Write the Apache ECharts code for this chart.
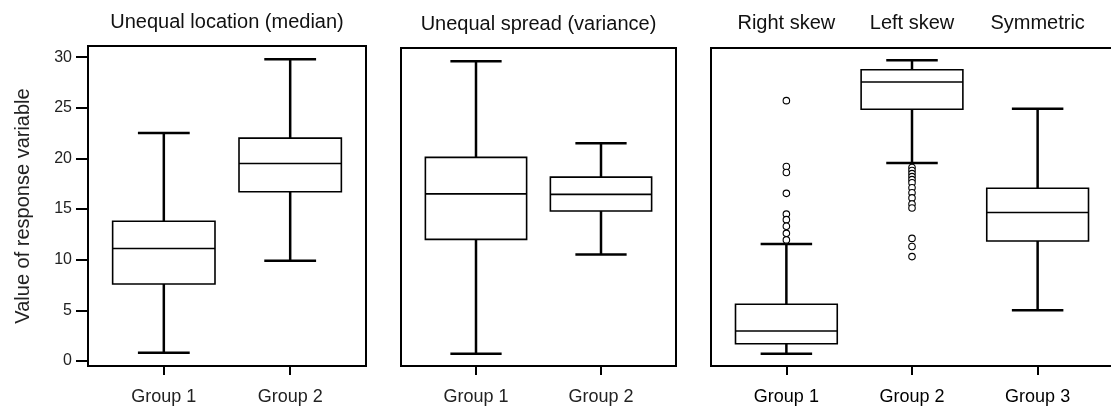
<!DOCTYPE html>
<html>
<head>
<meta charset="utf-8">
<script src="https://cdn.jsdelivr.net/npm/echarts@6/dist/echarts.min.js"></script>
<style>
  html, body { margin: 0; padding: 0; background: #fff; }
  #chart { width: 1111px; height: 414px; }
</style>
</head>
<body>
<div id="chart"></div>
<script>
// 数据：每个箱线 [最小值, Q1, 中位数, Q3, 最大值]
const locationGroups = ['Group 1', 'Group 2']
const locationBoxes = [
  [0.8, 7.6, 11.1, 13.8, 22.5],
  [9.9, 16.7, 19.5, 22.0, 29.8]
]
const spreadGroups = ['Group 1', 'Group 2']
const spreadBoxes = [
  [0.7, 12.0, 16.5, 20.1, 29.6],
  [10.5, 14.8, 16.45, 18.15, 21.5]
]
const skewGroups = ['Group 1', 'Group 2', 'Group 3']
const skewTitles = ['Right skew', 'Left skew', 'Symmetric']
const skewBoxes = [
  [0.7, 1.7, 2.95, 5.6, 11.55],
  [19.55, 24.85, 27.55, 28.75, 29.7],
  [5.0, 11.85, 14.65, 17.05, 24.9]
]
const rightSkewOutliers = [25.7, 19.2, 18.6, 16.55, 14.5, 13.95, 13.3, 12.6, 11.95]
const leftSkewOutliers = [19.1, 18.8, 18.5, 18.2, 17.9, 17.6, 17.1, 16.6, 16.1, 15.5, 15.1, 12.1, 11.3, 10.3]
const yTicks = [0, 5, 10, 15, 20, 25, 30]
const panelTitles = ['Unequal location (median)', 'Unequal spread (variance)']
const yAxisTitle = 'Value of response variable'

const FONT = "'Liberation Sans', Arial, Helvetica, sans-serif"
const BOX_WIDTH = 0.81
const CAP_WIDTH = 0.41

/**
 * 画一个箱线（箱体、中位线、须线和端线）
 */
const renderBox = (params, api) => {
  const x = api.value(0)
  const pMin = api.coord([x, api.value(1)])
  const pQ1 = api.coord([x, api.value(2)])
  const pMed = api.coord([x, api.value(3)])
  const pQ3 = api.coord([x, api.value(4)])
  const pMax = api.coord([x, api.value(5)])
  const boxW = api.size([BOX_WIDTH, 0])[0]
  const capW = api.size([CAP_WIDTH, 0])[0]
  const cx = pMed[0]
  const whisker = {stroke: '#000', lineWidth: 2.5}
  return {
    type: 'group',
    children: [
      {type: 'line', shape: {x1: cx, y1: pQ3[1], x2: cx, y2: pMax[1]}, style: whisker},
      {type: 'line', shape: {x1: cx, y1: pQ1[1], x2: cx, y2: pMin[1]}, style: whisker},
      {type: 'line', shape: {x1: cx - capW / 2, y1: pMax[1], x2: cx + capW / 2, y2: pMax[1]}, style: whisker},
      {type: 'line', shape: {x1: cx - capW / 2, y1: pMin[1], x2: cx + capW / 2, y2: pMin[1]}, style: whisker},
      {
        type: 'rect',
        shape: {x: cx - boxW / 2, y: pQ3[1], width: boxW, height: pQ1[1] - pQ3[1]},
        style: {fill: '#fff', stroke: '#000', lineWidth: 1.6}
      },
      {type: 'line', shape: {x1: cx - boxW / 2, y1: pMed[1], x2: cx + boxW / 2, y2: pMed[1]}, style: {stroke: '#000', lineWidth: 1.6}}
    ]
  }
}

const toBoxData = boxes => boxes.map((b, i) => [i + 1, ...b])
const tickValues = n => Array.from({length: n}, (_, i) => i + 1)

const bottomAxis = (gridIndex, groups, color) => ({
  gridIndex,
  type: 'value',
  position: 'bottom',
  min: 0.4,
  max: groups.length + 0.6,
  splitLine: {show: false},
  axisLine: {show: true, onZero: false, lineStyle: {color: '#000', width: 2}},
  axisTick: {show: true, length: 9, customValues: tickValues(groups.length), lineStyle: {color: '#000', width: 2}},
  axisLabel: {
    customValues: tickValues(groups.length),
    formatter: v => groups[Math.round(v) - 1],
    fontFamily: FONT, fontSize: 18, color, margin: 22
  }
})

const topAxis = (gridIndex, n, name, nameGap, labels, margin) => ({
  gridIndex,
  type: 'value',
  position: 'top',
  min: 0.4,
  max: n + 0.6,
  name,
  nameLocation: 'middle',
  nameGap,
  nameTextStyle: {fontFamily: FONT, fontSize: 20, color: '#111'},
  splitLine: {show: false},
  axisLine: {show: false},
  axisTick: {show: false},
  axisLabel: labels ? {
    customValues: tickValues(n),
    formatter: v => labels[Math.round(v) - 1],
    fontFamily: FONT, fontSize: 20, color: '#111', margin
  } : {show: false}
})

const chart = echarts.init(document.getElementById('chart'))

const gridBase = {show: true, borderColor: '#000', borderWidth: 2, outerBoundsMode: 'none', containLabel: false}

const option = {
  animation: false,
  backgroundColor: '#fff',
  grid: [
    {...gridBase, left: 88, top: 46, width: 278, height: 320},
    {...gridBase, left: 401, top: 48, width: 275, height: 318},
    {...gridBase, left: 711, top: 48, width: 402, height: 318}
  ],
  xAxis: [
    bottomAxis(0, locationGroups, '#222'),
    bottomAxis(1, spreadGroups, '#222'),
    bottomAxis(2, skewGroups, '#000'),
    topAxis(0, locationGroups.length, panelTitles[0], 14),
    topAxis(1, spreadGroups.length, panelTitles[1], 14),
    topAxis(2, skewGroups.length, '', 0, skewTitles, 15)
  ],
  yAxis: [
    {
      gridIndex: 0,
      type: 'value',
      min: -0.5,
      max: 31.1,
      name: yAxisTitle,
      nameLocation: 'middle',
      nameGap: 55,
      nameTextStyle: {fontFamily: FONT, fontSize: 20, color: '#222'},
      splitLine: {show: false},
      axisLine: {show: true, lineStyle: {color: '#000', width: 2}},
      axisTick: {show: true, length: 12, customValues: yTicks, lineStyle: {color: '#000', width: 2}},
      axisLabel: {customValues: yTicks, fontFamily: FONT, fontSize: 16, color: '#222', margin: 16}
    },
    {gridIndex: 1, type: 'value', min: -0.5, max: 30.9, show: false},
    {gridIndex: 2, type: 'value', min: -0.5, max: 30.9, show: false}
  ],
  series: [
    {type: 'custom', xAxisIndex: 0, yAxisIndex: 0, renderItem: renderBox, encode: {x: 0, y: [1, 2, 3, 4, 5]}, data: toBoxData(locationBoxes)},
    {type: 'custom', xAxisIndex: 1, yAxisIndex: 1, renderItem: renderBox, encode: {x: 0, y: [1, 2, 3, 4, 5]}, data: toBoxData(spreadBoxes)},
    {type: 'custom', xAxisIndex: 2, yAxisIndex: 2, renderItem: renderBox, encode: {x: 0, y: [1, 2, 3, 4, 5]}, data: toBoxData(skewBoxes)},
    {
      type: 'scatter',
      xAxisIndex: 2,
      yAxisIndex: 2,
      symbol: 'circle',
      symbolSize: 6.5,
      itemStyle: {color: '#fff', borderColor: '#000', borderWidth: 1.1, opacity: 1},
      data: [
        ...rightSkewOutliers.map(v => [1, v]),
        ...leftSkewOutliers.map(v => [2, v])
      ]
    }
  ]
}

chart.setOption(option)
</script>
</body>
</html>
